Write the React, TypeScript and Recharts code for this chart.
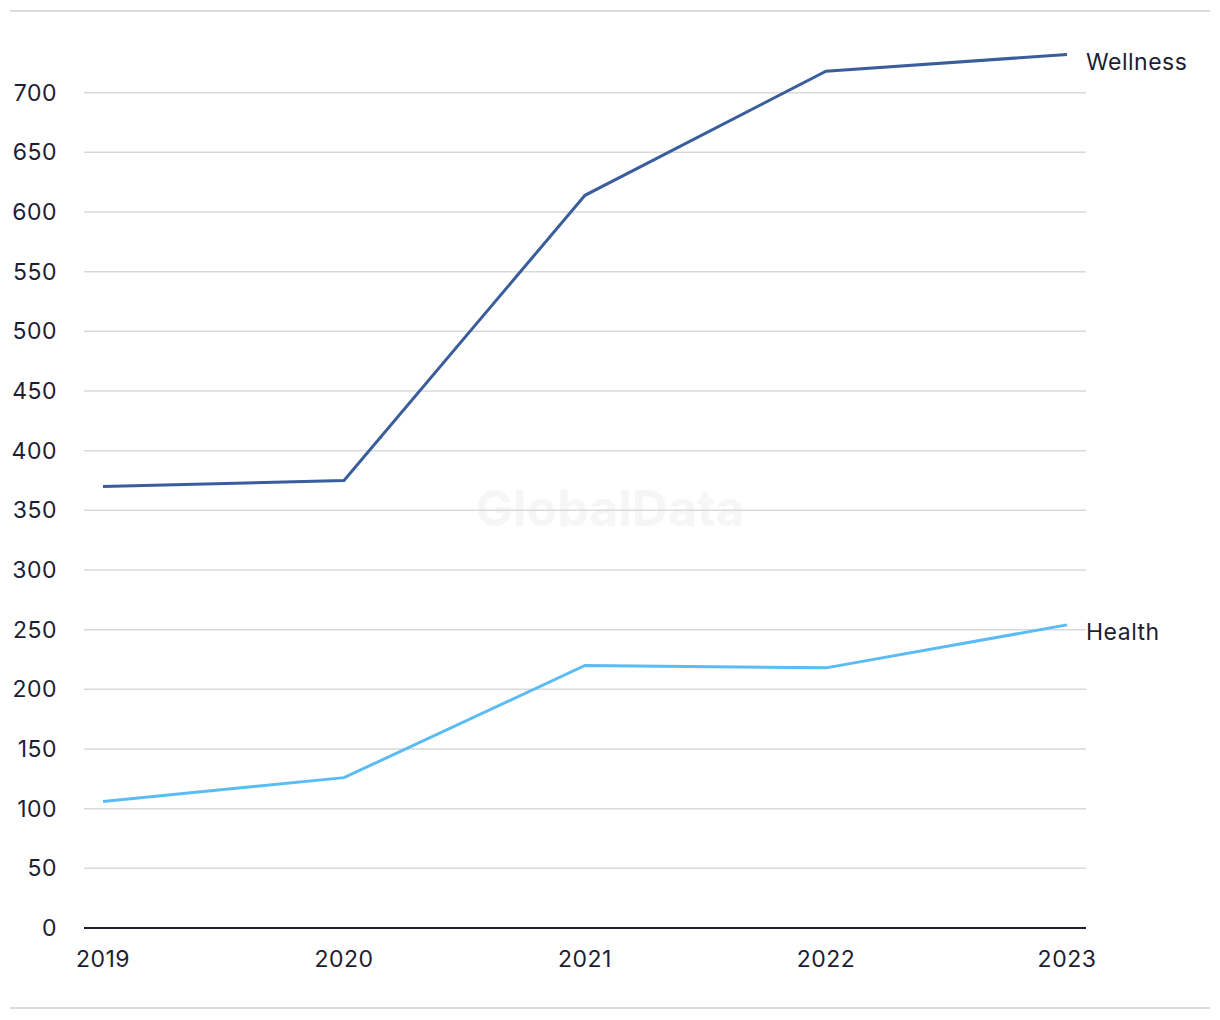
import { LineChart, Line, XAxis, YAxis, CartesianGrid } from 'recharts';

const years = ['2019', '2020', '2021', '2022', '2023'];
const wellness = [370, 375, 614, 718, 732];
const health = [106, 126, 220, 218, 254];
const yTicks = [0, 50, 100, 150, 200, 250, 300, 350, 400, 450, 500, 550, 600, 650, 700];

const data = years.map((year, i) => ({ year, Wellness: wellness[i], Health: health[i] }));

const FONT = 'Inter, "Noto Sans", sans-serif';
const TEXT = '#1d1d33';
const tickStyle = { fill: TEXT, fontSize: 23, fontFamily: FONT, letterSpacing: 0.5 };

const endLabel = (name: string) => (props: any) => {
  const { x, y, index } = props;
  if (index !== years.length - 1) return null;
  return (
    <text x={x + 19} y={y + 9} fill={TEXT} fontSize={23} letterSpacing={0.5} fontFamily={FONT} dominantBaseline="middle">
      {name}
    </text>
  );
};

export default function App() {
  return (
    <div style={{ position: 'absolute', left: 0, top: 0, width: 1220, height: 1020, background: '#fff' }}>
      <div style={{ position: 'absolute', left: 10, top: 10, width: 1200, height: 2, background: '#dcdcdc' }} />
      <div style={{ position: 'absolute', left: 10, top: 1007, width: 1200, height: 2, background: '#dcdcdc' }} />
      <div
        style={{
          position: 'absolute', left: 0, width: 1220, top: 478, textAlign: 'center',
          fontFamily: FONT, fontWeight: 700, fontSize: 50, color: '#f6f6f6',
        }}
      >
        GlobalData
      </div>
      <div style={{ position: 'absolute', left: 0, top: 0 }}>
        <LineChart width={1220} height={1020} data={data} margin={{ top: 33, right: 134, bottom: 0, left: 0 }}>
          <CartesianGrid vertical={false} horizontalValues={yTicks} stroke="#d9d9d9" strokeWidth={1.5} />
          <XAxis
            dataKey="year"
            padding={{ left: 19, right: 19 }}
            tickLine={false}
            tickSize={0}
            tickMargin={23}
            height={92}
            axisLine={{ stroke: TEXT, strokeWidth: 2 }}
            tick={tickStyle}
          />
          <YAxis
            domain={[0, 750]}
            ticks={yTicks}
            width={84}
            axisLine={false}
            tickLine={false}
            tickSize={0}
            tickMargin={27}
            tick={tickStyle}
          />
          <Line
            dataKey="Wellness"
            stroke="#3a5d9c"
            strokeWidth={3}
            dot={false}
            isAnimationActive={false}
            label={endLabel('Wellness')}
          />
          <Line
            dataKey="Health"
            stroke="#5bbcf5"
            strokeWidth={3}
            dot={false}
            isAnimationActive={false}
            label={endLabel('Health')}
          />
        </LineChart>
      </div>
    </div>
  );
}
